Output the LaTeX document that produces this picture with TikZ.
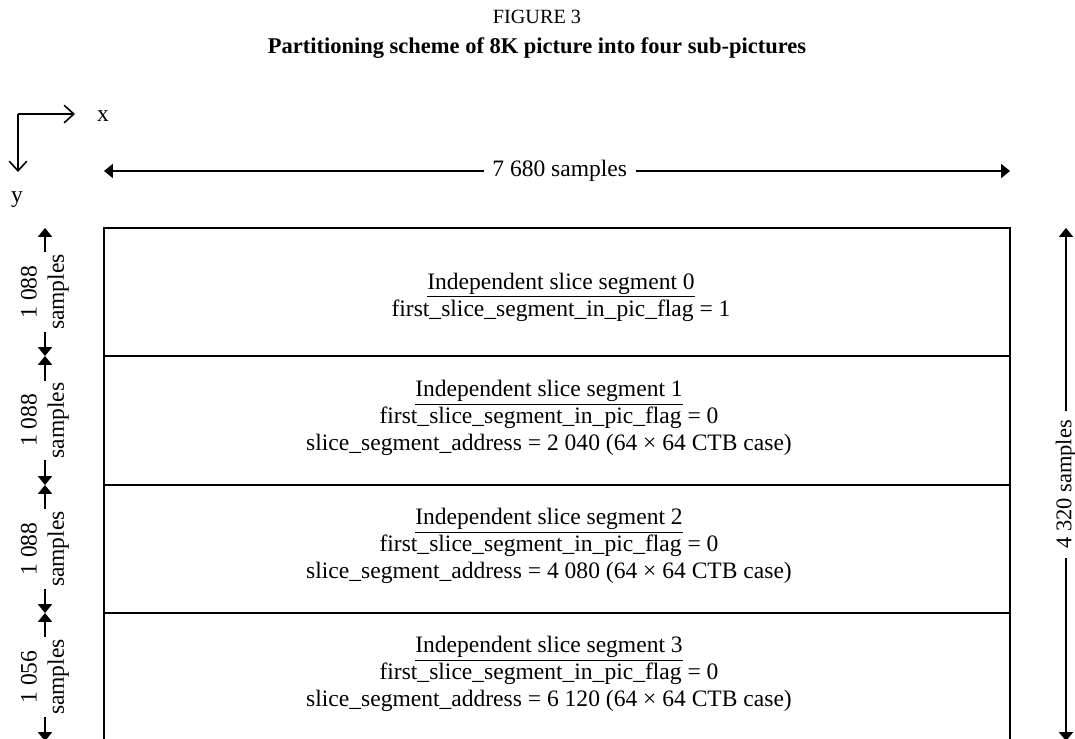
\documentclass[tikz,border=0pt]{standalone}
\usepackage{fontspec}
\setmainfont{Liberation Serif}
\usetikzlibrary{arrows.meta}

\begin{document}
\begin{tikzpicture}[x=0.02cm, y=-0.02cm,
  every node/.style = {font = \fontsize{13.4}{15.5}\selectfont},
  axis/.style = {line width = 0.9pt, -{Straight Barb[length=5.5pt, width=10pt]}},
  dim/.style = {line width = 0.6pt, {Triangle[length=5pt, width=8pt]}-{Triangle[length=5pt, width=8pt]}},
  lbl/.style = {fill = white, inner sep = 3pt, align = center},
  frame/.style = {line width = 1.1pt},
  divider/.style = {line width = 0.8pt},
  seg/.style = {align = center, inner sep = 0pt}]
\useasboundingbox (0,0) rectangle (1075,738);

% heading
\node[font = \fontsize{11.5}{13}\selectfont] (fig) at (537,17) {FIGURE 3};
\node[font = \fontsize{12.8}{14}\selectfont\bfseries] (title) at (537,48) {Partitioning scheme of 8K picture into four sub-pictures};

% axes
\coordinate (o) at (18,114);
\coordinate (ox) at (75,114);
\coordinate (oy) at (18,172);
\draw[axis] (o) -- (ox);
\draw[axis] (o) -- (oy);
\node (x) at (103,116) {x};
\node (y) at (17,200) {y};

% picture frame and slice boundaries
\foreach \i/\y in {0/228, 1/356, 2/485, 3/613, 4/741} {
  \coordinate (l\i) at (104,\y);
  \coordinate (r\i) at (1010,\y);
  \coordinate (d\i) at (45,\y);
}
\draw[frame] (l0) rectangle (r4);
\foreach \i in {1,2,3}
  \draw[divider] (l\i) -- (r\i);

% slice segments
\node[seg] (s0) at (561,297) {\underline{Independent slice segment 0}\\first\_slice\_segment\_in\_pic\_flag = 1};
\node[seg] (s1) at (549,418) {\underline{Independent slice segment 1}\\first\_slice\_segment\_in\_pic\_flag = 0\\slice\_segment\_address = 2~040 (64 × 64 CTB case)};
\node[seg] (s2) at (549,546) {\underline{Independent slice segment 2}\\first\_slice\_segment\_in\_pic\_flag = 0\\slice\_segment\_address = 4~080 (64 × 64 CTB case)};
\node[seg] (s3) at (549,674) {\underline{Independent slice segment 3}\\first\_slice\_segment\_in\_pic\_flag = 0\\slice\_segment\_address = 6~120 (64 × 64 CTB case)};

% width
\coordinate (wl) at (104,171);
\coordinate (wr) at (1010,171);
\draw[dim] (wl) -- node[lbl, pos = 0.503, inner sep = 5pt] (w) {7~680 samples} (wr);

% height
\coordinate (ht) at (1066,228);
\coordinate (hb) at (1066,741);
\draw[dim] (ht) -- node[lbl, rotate = 90, inner sep = 5pt, font = \fontsize{12.8}{15}\selectfont] (h) {4~320 samples} (hb);

% slice heights
\foreach \i/\j/\n in {0/1/1~088, 1/2/1~088, 2/3/1~088, 3/4/1~056}
  \draw[dim] (d\i) -- node[lbl, rotate = 90, inner sep = 1pt] (n\i) {\n\\samples} (d\j);
\end{tikzpicture}
\end{document}
